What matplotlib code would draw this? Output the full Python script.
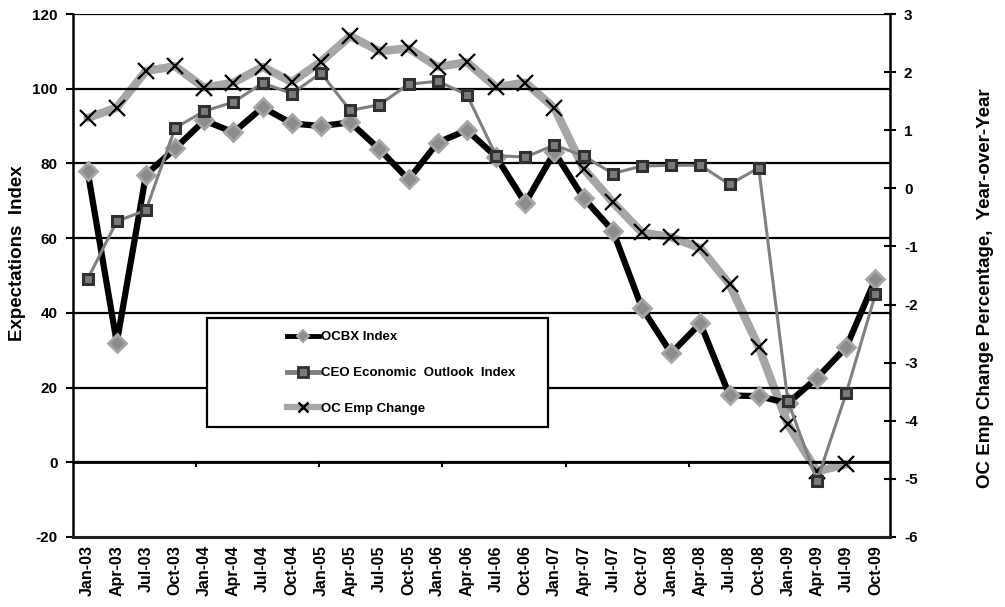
import matplotlib
matplotlib.use("Agg")
import matplotlib.pyplot as plt
import numpy as np
from matplotlib.lines import Line2D
from matplotlib.patches import Rectangle

plt.rcParams['font.family'] = ['Liberation Sans', 'DejaVu Sans']
plt.rcParams['font.weight'] = 'bold'

quarters = ["Jan-03", "Apr-03", "Jul-03", "Oct-03", "Jan-04", "Apr-04", "Jul-04", "Oct-04",
            "Jan-05", "Apr-05", "Jul-05", "Oct-05", "Jan-06", "Apr-06", "Jul-06", "Oct-06",
            "Jan-07", "Apr-07", "Jul-07", "Oct-07", "Jan-08", "Apr-08", "Jul-08", "Oct-08",
            "Jan-09", "Apr-09", "Jul-09", "Oct-09"]

ocbx_index = [78, 32, 77, 84, 91.5, 88.3, 95, 90.7, 90, 91, 83.8, 75.7, 85.6, 88.9, 81.8, 69.4,
              83, 70.7, 62, 41.3, 29.2, 37.2, 17.9, 17.7, 15.8, 22.6, 30.8, 49]

ceo_outlook = [49, 64.5, 67.5, 89.5, 94, 96.4, 101.5, 98.7, 104.2, 94.2, 95.7, 101.2, 102, 98.4,
               82.1, 81.7, 84.9, 82, 77.3, 79.3, 79.5, 79.5, 74.4, 78.8, 16.4, -4.9, 18.5, 45]

# Year-over-year employment change (%), no reading for the final quarter
oc_emp_change = [1.21, 1.39, 2.02, 2.10, 1.73, 1.82, 2.09, 1.83, 2.18, 2.62, 2.36, 2.41, 2.09,
                 2.17, 1.74, 1.82, 1.38, 0.34, -0.24, -0.76, -0.84, -1.03, -1.65, -2.73, -4.06,
                 -4.87, -4.75]

left_ticks = [-20, 0, 20, 40, 60, 80, 100, 120]
right_ticks = [-6, -5, -4, -3, -2, -1, 0, 1, 2, 3]

fig = plt.figure(figsize=(10.05, 6.07), dpi=100)
ax = fig.add_axes([73 / 1005, 1 - 537 / 607, 817 / 1005, 523 / 607])
ax2 = ax.twinx()

x = np.arange(len(quarters))

# Horizontal gridlines
for v in left_ticks[1:]:
    ax.axhline(v, color='black', lw=1.6, zorder=1)

ax.plot(x, ocbx_index, color='black', lw=4.5, marker='D', markersize=9,
        markerfacecolor='#8c8c8c', markeredgecolor='#a6a6a6', markeredgewidth=2, zorder=4)
ax.plot(x, ceo_outlook, color='#808080', lw=2.2, marker='s', markersize=7.5,
        markerfacecolor='#7a7a7a', markeredgecolor='#303030', markeredgewidth=2.2, zorder=5)

emp_x = np.arange(len(oc_emp_change))
ax2.plot(emp_x, oc_emp_change, color='#a6a6a6', lw=6,
         solid_capstyle='round', solid_joinstyle='round', zorder=2)
ax2.plot(emp_x, oc_emp_change, linestyle='none', marker='x',
         markersize=12, markeredgecolor='black', markeredgewidth=1.6, zorder=3)

ax.set_xlim(-0.5, len(quarters) - 0.5)
ax.set_ylim(-20, 120)
ax2.set_ylim(-6, 3)
ax.set_zorder(ax2.get_zorder() + 1)
ax.patch.set_visible(False)

ax.set_yticks(left_ticks)
ax.set_yticklabels([str(v) for v in left_ticks], fontsize=11, fontweight='bold')
ax2.set_yticks(right_ticks)
ax2.set_yticklabels([str(v) for v in right_ticks], fontsize=11, fontweight='bold')
ax.tick_params(axis='y', direction='out', length=5, width=1.5, pad=6)
ax2.tick_params(axis='y', direction='inout', length=8, width=1.5, pad=6)

ax.set_xticks(x)
ax.set_xticklabels(quarters, rotation=90, fontsize=11.5, fontweight='bold')
ax.tick_params(axis='x', length=0, pad=6)

# Category axis crossing at zero, with its own tick marks
ax.axhline(0, color='black', lw=2, zorder=2)
for k in range(1, 7):
    xt = -0.5 + k * 4.22
    ax.plot([xt, xt], [0, -1.0], color='black', lw=1.5, zorder=2, clip_on=False)

for side in ['top']:
    ax.spines[side].set_visible(False)
    ax2.spines[side].set_visible(False)
ax.spines['left'].set_linewidth(1.8)
ax2.spines['left'].set_visible(False)
ax2.spines['right'].set_linewidth(1.8)
ax.spines['right'].set_visible(False)
ax.spines['bottom'].set_linewidth(2.2)
ax.spines['bottom'].set_color('#222222')
ax2.spines['bottom'].set_visible(False)

fig.text(17 / 1005, 1 - 253 / 607, "Expectations  Index", rotation=90, ha='center',
         va='center', fontsize=13.5, fontweight='bold')
fig.text(985 / 1005, 1 - 288 / 607, "OC Emp Change Percentage,  Year-over-Year",
         rotation=90, ha='center', va='center', fontsize=13.5, fontweight='bold')

# Legend box
ax.add_patch(Rectangle((0.164, 0.210), 0.417, 0.208, transform=ax.transAxes,
                       facecolor='white', edgecolor='black', lw=1.6, zorder=9))

handles = [
    Line2D([], [], color='black', lw=3.5, marker='D', markersize=6,
           markerfacecolor='#8c8c8c', markeredgecolor='#a6a6a6', markeredgewidth=1.5),
    Line2D([], [], color='#808080', lw=3.5, marker='s', markersize=7,
           markerfacecolor='#7a7a7a', markeredgecolor='#303030', markeredgewidth=2),
    Line2D([], [], color='#a6a6a6', lw=4.5, marker='x', markersize=7,
           markeredgecolor='black', markeredgewidth=1.8),
]
labels = ["OCBX Index", "CEO Economic  Outlook  Index", "OC Emp Change"]
leg = ax.legend(handles, labels, loc='center left',
                bbox_to_anchor=((287 - 73) / 817, (537 - 373) / 523),
                frameon=False, fontsize=9.5, handlelength=2.4, handletextpad=0.15,
                labelspacing=1.8, borderpad=0, borderaxespad=0)
for t in leg.get_texts():
    t.set_fontweight('bold')
leg.set_zorder(10)

fig.savefig("out.png", dpi=100)
